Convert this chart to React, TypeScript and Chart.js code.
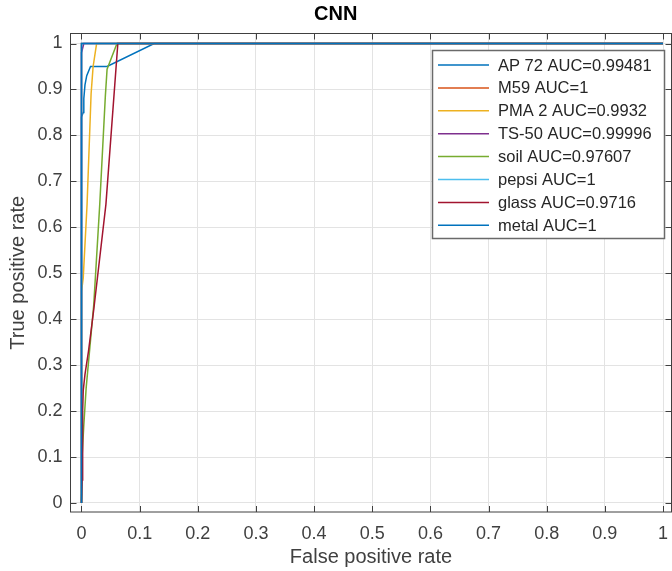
import React, { useEffect, useRef } from "react";
import { Chart, registerables } from "chart.js";

Chart.register(...registerables);

// ---- data ----
const seriesLabels = [
  "AP 72 AUC=0.99481",
  "M59 AUC=1",
  "PMA 2 AUC=0.9932",
  "TS-50 AUC=0.99996",
  "soil AUC=0.97607",
  "pepsi AUC=1",
  "glass AUC=0.9716",
  "metal AUC=1",
];
const seriesColors = [
  "#0072BD",
  "#D95319",
  "#EDB120",
  "#7E2F8E",
  "#77AC30",
  "#4DBEEE",
  "#A2142F",
  "#0072BD",
];

const ap72Fpr = [0, 0, 0.003, 0.004, 0.006, 0.009, 0.0155, 0.044, 0.125, 1];
const ap72Tpr = [0, 0.84, 0.85, 0.88, 0.91, 0.93, 0.95, 0.95, 1, 1];

const m59Fpr = [0, 0, 1];
const m59Tpr = [0, 1, 1];

const pma2Fpr = [0, 0, 0.003, 0.0096, 0.0165, 0.02, 0.026, 1];
const pma2Tpr = [0, 0.46, 0.49, 0.65, 0.89, 0.95, 1, 1];

const ts50Fpr = [0, 0, 0.004, 1];
const ts50Tpr = [0, 0.98, 1, 1];

const soilFpr = [0, 0.001, 0.004, 0.008, 0.021, 0.0314, 0.041, 0.044, 0.061, 1];
const soilTpr = [0, 0.1, 0.17, 0.25, 0.43, 0.65, 0.885, 0.944, 1, 1];

const pepsiFpr = [0, 0, 1];
const pepsiTpr = [0, 1, 1];

const glassFpr = [0, 0.001, 0.002, 0.003, 0.006, 0.012, 0.021, 0.042, 0.0625, 1];
const glassTpr = [0, 0.05, 0.2, 0.245, 0.28, 0.33, 0.42, 0.65, 1, 1];

const metalFpr = [0, 0, 1];
const metalTpr = [0, 1, 1];

const xTicks = [0, 0.1, 0.2, 0.3, 0.4, 0.5, 0.6, 0.7, 0.8, 0.9, 1];
const yTicks = [0, 0.1, 0.2, 0.3, 0.4, 0.5, 0.6, 0.7, 0.8, 0.9, 1];

const allFpr = [ap72Fpr, m59Fpr, pma2Fpr, ts50Fpr, soilFpr, pepsiFpr, glassFpr, metalFpr];
const allTpr = [ap72Tpr, m59Tpr, pma2Tpr, ts50Tpr, soilTpr, pepsiTpr, glassTpr, metalTpr];

const FONT = "'Liberation Sans', Arial, Helvetica, sans-serif";
const AXIS_COLOR = "#404040";

const boxPlugin = {
  id: "matlabBox",
  afterDatasetsDraw(chart: any) {
    const { ctx, chartArea } = chart;
    const { left, right, top, bottom } = chartArea;
    const xs = chart.scales.x;
    const ys = chart.scales.y;
    ctx.save();
    ctx.strokeStyle = AXIS_COLOR;
    ctx.lineWidth = 1;
    ctx.strokeRect(left, top, right - left, bottom - top);
    const tl = 6;
    ctx.beginPath();
    for (const v of xTicks) {
      const px = Math.round(xs.getPixelForValue(v)) + 0.5;
      ctx.moveTo(px, bottom);
      ctx.lineTo(px, bottom - tl);
      ctx.moveTo(px, top);
      ctx.lineTo(px, top + tl);
    }
    for (const v of yTicks) {
      const py = Math.round(ys.getPixelForValue(v)) + 0.5;
      ctx.moveTo(left, py);
      ctx.lineTo(left + tl, py);
      ctx.moveTo(right, py);
      ctx.lineTo(right - tl, py);
    }
    ctx.stroke();

    // legend
    const lx = 432.5;
    const ly = 50.5;
    const lw = 232;
    const lh = 188;
    ctx.fillStyle = "#ffffff";
    ctx.fillRect(lx, ly, lw, lh);
    ctx.strokeStyle = "#6a6a6a";
    ctx.lineWidth = 1.5;
    ctx.strokeRect(lx, ly, lw, lh);
    ctx.font = `16.5px ${FONT}`;
    ctx.textBaseline = "middle";
    ctx.textAlign = "left";
    chart.data.datasets.forEach((ds: any, i: number) => {
      const cy = 65 + i * 22.9;
      ctx.strokeStyle = ds.borderColor;
      ctx.lineWidth = 1.5;
      ctx.beginPath();
      ctx.moveTo(438, cy);
      ctx.lineTo(489, cy);
      ctx.stroke();
      ctx.fillStyle = "#262626";
      ctx.fillText(ds.label, 498, cy + 1);
    });
    ctx.restore();
  },
};

export default function App() {
  const ref = useRef<HTMLCanvasElement | null>(null);
  useEffect(() => {
    if (!ref.current) return;
    const n = seriesLabels.length;
    const datasets = seriesLabels.map((label, i) => ({
      label,
      data: allFpr[i].map((x, j) => ({ x, y: allTpr[i][j] })),
      borderColor: seriesColors[i],
      backgroundColor: seriesColors[i],
      borderWidth: 1.5,
      showLine: true,
      pointRadius: 0,
      tension: 0,
      fill: false,
      order: n - i,
    }));
    const chart = new Chart(ref.current, {
      type: "scatter",
      data: { datasets },
      options: {
        animation: false,
        responsive: true,
        maintainAspectRatio: false,
        layout: { padding: { left: 0, right: 0.5, top: 0, bottom: 0 } },
        plugins: {
          legend: { display: false },
          tooltip: { enabled: false },
          title: {
            display: true,
            text: "CNN",
            color: "#000000",
            font: { family: FONT, size: 20, weight: "bold" },
            padding: { top: 2, bottom: 7.5 },
          },
        },
        scales: {
          x: {
            type: "linear",
            min: -0.0189,
            max: 1.0146,
            afterBuildTicks: (s: any) => {
              s.ticks = xTicks.map((v) => ({ value: v }));
            },
            afterFit: (s: any) => {
              s.height = 59;
              s.paddingLeft = 0;
              s.paddingRight = 0;
            },
            ticks: {
              color: AXIS_COLOR,
              font: { family: FONT, size: 18 },
              padding: 11,
              maxRotation: 0,
              autoSkip: false,
              callback: (v: any) => `${v}`,
            },
            grid: { color: "#e3e3e3", drawTicks: false, lineWidth: 1 },
            border: { display: false },
            title: {
              display: true,
              text: "False positive rate",
              color: AXIS_COLOR,
              font: { family: FONT, size: 20 },
              padding: { top: 0, bottom: 2 },
            },
          },
          y: {
            type: "linear",
            min: -0.0196,
            max: 1.0218,
            afterBuildTicks: (s: any) => {
              s.ticks = yTicks.map((v) => ({ value: v }));
            },
            afterFit: (s: any) => {
              s.width = 70.5;
              s.paddingTop = 0;
              s.paddingBottom = 0;
            },
            ticks: {
              color: AXIS_COLOR,
              font: { family: FONT, size: 18 },
              padding: 8,
              autoSkip: false,
              callback: (v: any) => `${v}`,
            },
            grid: { color: "#e3e3e3", drawTicks: false, lineWidth: 1 },
            border: { display: false },
            title: {
              display: true,
              text: "True positive rate",
              color: AXIS_COLOR,
              font: { family: FONT, size: 20 },
              padding: { top: 6, bottom: 0 },
            },
          },
        },
      },
      plugins: [boxPlugin],
    });
    return () => chart.destroy();
  }, []);
  return (
    <div style={{ position: "absolute", left: 0, top: 0, width: 672, height: 571, background: "#ffffff" }}>
      <canvas ref={ref} />
    </div>
  );
}
